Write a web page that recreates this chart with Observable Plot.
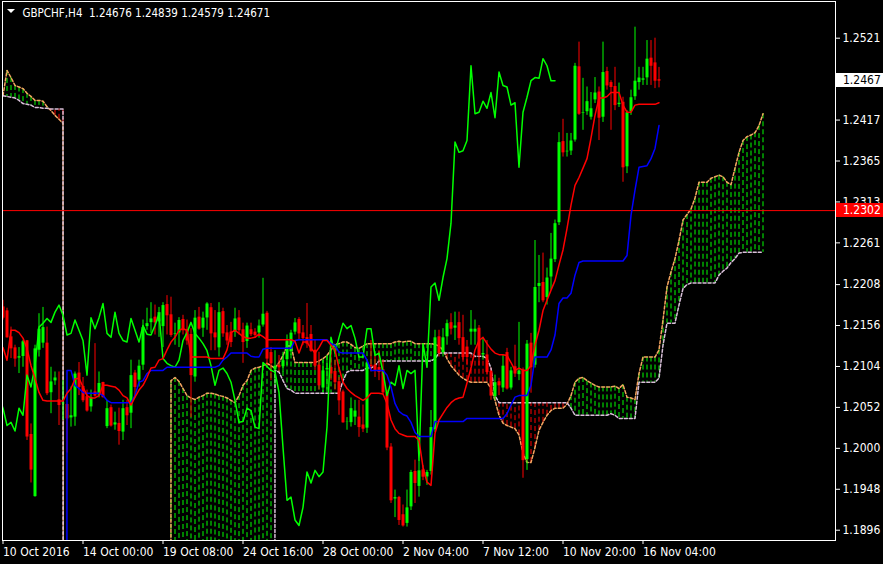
<!DOCTYPE html>
<html><head><meta charset="utf-8">
<script src="https://cdn.jsdelivr.net/npm/d3@7"></script>
<script src="https://cdn.jsdelivr.net/npm/@observablehq/plot@0.6"></script>
<style>
html,body{margin:0;padding:0;background:#000;}
#chart{width:883px;height:564px;overflow:hidden;}
svg text{white-space:pre;}
</style></head><body><div id="chart"></div>
<script>
const symbol = "GBPCHF,H4";
const lastQuote = [1.24676, 1.24839, 1.24579, 1.24671];
const alertLevel = 1.2302;
const chikouShift = 26;
const xTickBars = [0, 20, 40, 60, 80, 100, 120, 140, 160];
const xTickLabels = ["10 Oct 2016", "14 Oct 00:00", "19 Oct 08:00", "24 Oct 16:00", "28 Oct 00:00", "2 Nov 04:00", "7 Nov 12:00", "10 Nov 20:00", "16 Nov 04:00"];
const yTickValues = [1.2521, 1.2417, 1.2365, 1.2313, 1.2261, 1.2208, 1.2156, 1.2104, 1.2052, 1.2000, 1.1948, 1.1896];

const open = [1.2179,1.2174,1.2141,1.2127,1.2114,1.2116,1.2136,1.2017,1.1938,1.2124,
1.2133,1.2133,1.2070,1.2085,1.2061,1.2056,1.2055,1.2038,1.2039,1.2095,
1.2078,1.2065,1.2052,1.2071,1.2067,1.2083,1.2027,1.2051,1.2029,1.2031,
1.2020,1.2051,1.2044,1.2095,1.2086,1.2105,1.2154,1.2159,1.2166,1.2160,
1.2154,1.2182,1.2169,1.2144,1.2146,1.2163,1.2150,1.2144,1.2090,1.2166,
1.2152,1.2165,1.2178,1.2146,1.2127,1.2173,1.2146,1.2147,1.2147,1.2165,
1.2150,1.2135,1.2150,1.2147,1.2146,1.2156,1.2171,1.2121,1.2099,1.2105,
1.2103,1.2112,1.2122,1.2147,1.2163,1.2146,1.2140,1.2144,1.2124,1.2105,
1.2076,1.2099,1.2102,1.2097,1.2084,1.2071,1.2033,1.2032,1.2039,1.2039,
1.2029,1.2025,1.2105,1.2105,1.2102,1.2099,1.2070,1.2001,1.1935,1.1937,
1.1915,1.1904,1.1925,1.1970,1.1951,1.1972,1.1963,1.1970,1.2023,1.2141,
1.2121,1.2141,1.2159,1.2152,1.2159,1.2140,1.2128,1.2147,1.2147,1.2152,
1.2118,1.2118,1.2097,1.2065,1.2084,1.2076,1.2121,1.2076,1.2103,1.2093,
1.2099,1.1985,1.2133,1.2105,1.2205,1.2210,1.2191,1.2217,1.2239,1.2286,
1.2389,1.2376,1.2377,1.2391,1.2484,1.2425,1.2427,1.2420,1.2442,1.2452,
1.2420,1.2478,1.2464,1.2459,1.2436,1.2439,1.2357,1.2427,1.2446,1.2464,
1.2467,1.2470,1.2495,1.2489,1.24676];
const high = [1.2188,1.2178,1.2154,1.2131,1.2128,1.2137,1.2137,1.2031,1.2131,1.2171,
1.2179,1.2154,1.2103,1.2097,1.2097,1.2086,1.2056,1.2078,1.2097,1.2109,
1.2090,1.2074,1.2074,1.2133,1.2097,1.2084,1.2061,1.2055,1.2046,1.2051,
1.2061,1.2061,1.2112,1.2099,1.2112,1.2163,1.2178,1.2185,1.2182,1.2179,
1.2185,1.2194,1.2192,1.2159,1.2166,1.2169,1.2163,1.2152,1.2175,1.2179,
1.2173,1.2185,1.2184,1.2175,1.2185,1.2178,1.2156,1.2160,1.2178,1.2175,
1.2159,1.2159,1.2159,1.2152,1.2163,1.2216,1.2174,1.2128,1.2124,1.2118,
1.2122,1.2144,1.2150,1.2165,1.2166,1.2156,1.2184,1.2156,1.2137,1.2122,
1.2112,1.2118,1.2137,1.2112,1.2090,1.2074,1.2039,1.2064,1.2061,1.2061,
1.2055,1.2109,1.2137,1.2118,1.2124,1.2112,1.2074,1.2006,1.1947,1.1939,
1.1928,1.1947,1.1972,1.1985,1.1985,1.1978,1.1972,1.2048,1.2150,1.2150,
1.2152,1.2163,1.2171,1.2173,1.2173,1.2169,1.2137,1.2175,1.2163,1.2156,
1.2140,1.2137,1.2099,1.2093,1.2089,1.2118,1.2127,1.2103,1.2131,1.2160,
1.2102,1.2137,1.2146,1.2264,1.2245,1.2248,1.2229,1.2273,1.2290,1.2401,
1.2418,1.2400,1.2400,1.2489,1.2516,1.2470,1.2459,1.2452,1.2471,1.2459,
1.2516,1.2484,1.2467,1.2484,1.2464,1.2446,1.2429,1.2455,1.2535,1.2484,
1.2484,1.2518,1.2518,1.2521,1.24839];
const low = [1.2163,1.2140,1.2114,1.2103,1.2095,1.2103,1.2010,1.1956,1.1938,1.2116,
1.2127,1.2067,1.2044,1.2080,1.2029,1.2036,1.1994,1.2027,1.2028,1.2067,
1.2058,1.2046,1.2046,1.2065,1.2064,1.2064,1.2025,1.2027,1.2023,1.2004,
1.2010,1.2029,1.2025,1.2064,1.2078,1.2099,1.2150,1.2146,1.2144,1.2141,
1.2128,1.2144,1.2141,1.2131,1.2128,1.2144,1.2131,1.2039,1.2084,1.2150,
1.2141,1.2150,1.2124,1.2124,1.2116,1.2141,1.2131,1.2128,1.2141,1.2144,
1.2108,1.2127,1.2142,1.2140,1.2140,1.2154,1.2105,1.2086,1.2080,1.2097,
1.2097,1.2105,1.2118,1.2144,1.2137,1.2131,1.2127,1.2122,1.2099,1.2074,
1.2071,1.2074,1.2086,1.2074,1.2042,1.2032,1.2023,1.2027,1.2029,1.2014,
1.2020,1.2019,1.2097,1.2090,1.2086,1.2067,1.1997,1.1930,1.1912,1.1902,
1.1900,1.1900,1.1921,1.1930,1.1938,1.1959,1.1953,1.1966,1.2020,1.2116,
1.2116,1.2131,1.2144,1.2137,1.2131,1.2112,1.2105,1.2131,1.2131,1.2105,
1.2112,1.2093,1.2061,1.2061,1.2067,1.2071,1.2074,1.2074,1.2090,1.2086,
1.1962,1.1972,1.2070,1.2102,1.2185,1.2185,1.2182,1.2201,1.2236,1.2283,
1.2370,1.2370,1.2372,1.2389,1.2423,1.2404,1.2423,1.2417,1.2438,1.2391,
1.2414,1.2455,1.2404,1.2429,1.2433,1.2338,1.2349,1.2423,1.2442,1.2455,
1.2461,1.2461,1.2461,1.2457,1.24579];
const close = [1.2166,1.2141,1.2127,1.2114,1.2117,1.2136,1.2015,1.1973,1.2127,1.2152,
1.2154,1.2070,1.2085,1.2090,1.2055,1.2058,1.2038,1.2042,1.2095,1.2078,
1.2061,1.2048,1.2065,1.2067,1.2083,1.2065,1.2051,1.2029,1.2033,1.2022,
1.2051,1.2042,1.2093,1.2078,1.2105,1.2154,1.2159,1.2165,1.2160,1.2173,
1.2182,1.2169,1.2144,1.2146,1.2163,1.2150,1.2137,1.2093,1.2166,1.2152,
1.2166,1.2184,1.2146,1.2141,1.2173,1.2146,1.2137,1.2135,1.2165,1.2150,
1.2135,1.2156,1.2145,1.2144,1.2156,1.2171,1.2114,1.2108,1.2105,1.2103,
1.2112,1.2137,1.2147,1.2160,1.2146,1.2140,1.2133,1.2124,1.2105,1.2080,
1.2099,1.2102,1.2095,1.2084,1.2061,1.2033,1.2034,1.2051,1.2048,1.2027,
1.2025,1.2109,1.2104,1.2099,1.2097,1.2071,1.2001,1.1934,1.1938,1.1909,
1.1902,1.1925,1.1970,1.1956,1.1972,1.1964,1.1970,1.2027,1.2141,1.2121,
1.2141,1.2159,1.2152,1.2156,1.2140,1.2116,1.2116,1.2152,1.2152,1.2118,
1.2121,1.2097,1.2067,1.2084,1.2080,1.2105,1.2076,1.2099,1.2095,1.2099,
1.1985,1.2133,1.2103,1.2205,1.2210,1.2188,1.2217,1.2241,1.2286,1.2389,
1.2376,1.2378,1.2391,1.2486,1.2425,1.2427,1.2441,1.2432,1.2452,1.2420,
1.2478,1.2461,1.2459,1.2436,1.2439,1.2357,1.2427,1.2446,1.2467,1.2471,
1.2470,1.2495,1.2486,1.2467,1.24671];

const tenkan = [1.2128,1.2112,1.2150,1.2150,1.2147,1.2140,1.2127,1.2105,1.2089,1.2071,
1.2061,1.2060,1.2060,1.2060,1.2060,1.2060,1.2070,1.2076,1.2088,1.2089,
1.2078,1.2067,1.2064,1.2064,1.2067,1.2080,1.2080,1.2079,1.2078,1.2074,
1.2067,1.2064,1.2055,1.2065,1.2074,1.2080,1.2090,1.2102,1.2103,1.2112,
1.2114,1.2125,1.2135,1.2141,1.2150,1.2152,1.2150,1.2116,1.2116,1.2116,
1.2116,1.2116,1.2114,1.2114,1.2114,1.2114,1.2125,1.2147,1.2150,1.2146,
1.2142,1.2140,1.2140,1.2141,1.2145,1.2142,1.2138,1.2138,1.2138,1.2138,
1.2138,1.2138,1.2138,1.2136,1.2121,1.2135,1.2135,1.2127,1.2121,1.2128,
1.2137,1.2137,1.2131,1.2125,1.2102,1.2084,1.2076,1.2071,1.2067,1.2064,
1.2061,1.2064,1.2070,1.2070,1.2070,1.2069,1.2057,1.2036,1.2025,1.2019,
1.2017,1.2015,1.2015,1.2015,1.2010,1.1976,1.1957,1.1953,1.2019,1.2036,
1.2044,1.2052,1.2058,1.2062,1.2064,1.2065,1.2083,1.2102,1.2125,1.2137,
1.2141,1.2133,1.2126,1.2121,1.2119,1.2119,1.2118,1.2109,1.2099,1.2102,
1.2099,1.2099,1.2105,1.2131,1.2150,1.2175,1.2188,1.2201,1.2213,1.2233,
1.2252,1.2279,1.2309,1.2334,1.2344,1.2356,1.2368,1.2394,1.2423,1.2445,
1.2445,1.2447,1.2452,1.2452,1.2452,1.2436,1.2427,1.2427,1.2436,1.2437,
1.2437,1.2437,1.2437,1.2437,1.2439];
const kijun = [0,0,0,0,0,0,0,0,0,0,
0,0,0,0,0,0,1.2099,1.2099,1.2080,1.2076,
1.2071,1.2070,1.2070,1.2070,1.2070,1.2067,1.2061,1.2058,1.2058,1.2058,
1.2058,1.2058,1.2058,1.2067,1.2084,1.2086,1.2095,1.2099,1.2099,1.2099,
1.2099,1.2103,1.2103,1.2103,1.2103,1.2103,1.2103,1.2103,1.2103,1.2103,
1.2103,1.2103,1.2103,1.2103,1.2105,1.2112,1.2116,1.2121,1.2121,1.2121,
1.2121,1.2121,1.2117,1.2116,1.2116,1.2126,1.2127,1.2127,1.2127,1.2127,
1.2127,1.2127,1.2127,1.2137,1.2138,1.2138,1.2138,1.2138,1.2138,1.2138,
1.2138,1.2138,1.2133,1.2131,1.2122,1.2121,1.2121,1.2121,1.2121,1.2121,
1.2121,1.2112,1.2099,1.2099,1.2099,1.2099,1.2093,1.2078,1.2057,1.2047,
1.2043,1.2041,1.2033,1.2020,1.2015,1.2015,1.2015,1.2015,1.2034,1.2034,
1.2034,1.2034,1.2034,1.2034,1.2034,1.2034,1.2038,1.2038,1.2038,1.2038,
1.2038,1.2038,1.2038,1.2038,1.2038,1.2038,1.2044,1.2055,1.2065,1.2067,
1.2067,1.2067,1.2080,1.2116,1.2116,1.2116,1.2116,1.2125,1.2144,1.2184,
1.2191,1.2191,1.2197,1.2220,1.2236,1.2238,1.2238,1.2238,1.2238,1.2238,
1.2238,1.2238,1.2238,1.2238,1.2238,1.2238,1.2245,1.2296,1.2328,1.2357,
1.2358,1.2359,1.2368,1.2381,1.2410];
const spanA = [1.2448,1.2480,1.2471,1.2461,1.2459,1.2457,1.2451,1.2447,1.2442,1.2442,
1.2441,1.2434,1.2429,1.2423,1.2418,1.2413,0,0,0,0,
0,0,0,0,0,0,0,0,0,0,
0,0,0,0,0,0,0,0,0,0,
0,0,1.2086,1.2090,1.2085,1.2076,1.2067,1.2064,1.2062,1.2065,
1.2067,1.2070,1.2070,1.2069,1.2067,1.2066,1.2064,1.2061,1.2058,1.2067,
1.2080,1.2086,1.2099,1.2102,1.2103,1.2105,1.2108,1.2105,1.2102,1.2109,
1.2118,1.2130,1.2130,1.2109,1.2109,1.2109,1.2109,1.2109,1.2109,1.2111,
1.2114,1.2118,1.2125,1.2132,1.2133,1.2135,1.2135,1.2132,1.2128,1.2127,
1.2130,1.2133,1.2133,1.2133,1.2133,1.2133,1.2133,1.2133,1.2135,1.2136,
1.2135,1.2136,1.2136,1.2133,1.2133,1.2133,1.2133,1.2133,1.2132,1.2130,
1.2125,1.2114,1.2105,1.2099,1.2093,1.2089,1.2086,1.2084,1.2084,1.2084,
1.2084,1.2084,1.2076,1.2061,1.2042,1.2032,1.2029,1.2027,1.2025,1.2017,
1.1994,1.1982,1.1982,1.2001,1.2023,1.2033,1.2042,1.2048,1.2051,1.2051,
1.2051,1.2056,1.2067,1.2084,1.2089,1.2090,1.2086,1.2083,1.2080,1.2078,
1.2078,1.2078,1.2078,1.2079,1.2076,1.2081,1.2065,1.2064,1.2062,1.2095,
1.2116,1.2116,1.2116,1.2116,1.2125,1.2163,1.2205,1.2224,1.2241,1.2264,
1.2290,1.2297,1.2304,1.2318,1.2338,1.2338,1.2338,1.2343,1.2345,1.2347,
1.2345,1.2338,1.2335,1.2356,1.2376,1.2391,1.2396,1.2398,1.2401,1.2410,
1.2425];
const spanB = [1.2448,1.2447,1.2446,1.2445,1.2442,1.2438,1.2437,1.2436,1.2433,1.2433,
1.2432,1.2432,1.2431,1.2431,1.2431,1.2431,0,0,0,0,
0,0,0,0,0,0,0,0,0,0,
0,0,0,0,0,0,0,0,0,0,
0,0,0,0,0,0,0,0,0,0,
0,0,0,0,0,0,0,0,0,0,
0,0,0,0,0,0,0,0,1.2099,1.2097,
1.2086,1.2076,1.2074,1.2070,1.2070,1.2070,1.2070,1.2070,1.2070,1.2070,
1.2070,1.2070,1.2070,1.2070,1.2070,1.2086,1.2097,1.2099,1.2099,1.2099,
1.2099,1.2102,1.2102,1.2105,1.2111,1.2111,1.2111,1.2111,1.2111,1.2111,
1.2111,1.2111,1.2111,1.2111,1.2111,1.2111,1.2111,1.2111,1.2114,1.2121,
1.2121,1.2121,1.2121,1.2121,1.2121,1.2121,1.2121,1.2121,1.2117,1.2117,
1.2117,1.2114,1.2102,1.2067,1.2058,1.2058,1.2058,1.2058,1.2058,1.2058,
1.2058,1.2058,1.2058,1.2058,1.2058,1.2058,1.2058,1.2058,1.2058,1.2058,
1.2058,1.2058,1.2051,1.2042,1.2042,1.2042,1.2042,1.2042,1.2042,1.2042,
1.2042,1.2042,1.2044,1.2042,1.2038,1.2038,1.2038,1.2038,1.2038,1.2084,
1.2084,1.2084,1.2084,1.2084,1.2089,1.2131,1.2159,1.2159,1.2159,1.2182,
1.2203,1.2208,1.2210,1.2210,1.2210,1.2210,1.2210,1.2210,1.2210,1.2220,
1.2225,1.2229,1.2236,1.2241,1.2248,1.2249,1.2249,1.2249,1.2249,1.2249,
1.2249];

const LIME = "#00ff00", RED = "#ff0000", BLUE = "#0000ff", SANDY = "#f4a460", THISTLE = "#d8bfd8";

const bars = open.map((o, i) => ({i, o, h: high[i], l: low[i], c: close[i], col: close[i] >= o ? LIME : RED}));
const cloud = spanA.map((a, i) => ({i, a, b: spanB[i], col: a >= spanB[i] ? LIME : RED}));
const tk = tenkan.map((v, i) => ({i, v}));
const kj = kijun.map((v, i) => ({i, v}));
const ch = close.map((v, i) => ({i: i - chikouShift, v}));
const header = `${symbol}  ${lastQuote.map(d3.format(".5f")).join(" ")}`;

const chart = Plot.plot({
  width: 883, height: 564,
  marginLeft: 2, marginRight: 48, marginTop: 1, marginBottom: 24,
  style: {background: "#000", color: "#fff", fontFamily: "'DejaVu Sans Condensed','DejaVu Sans',sans-serif", fontSize: "12px"},
  x: {domain: [-0.125, 208.125], label: null},
  y: {domain: [1.188292, 1.256762], label: null},
  marks: [
    Plot.ruleX(cloud, {x: "i", y1: "a", y2: "b", stroke: "col", strokeDasharray: "5,3", clip: true}),
    Plot.line(cloud, {x: "i", y: "a", stroke: SANDY, strokeDasharray: "3,2", clip: true}),
    Plot.line(cloud, {x: "i", y: "b", stroke: THISTLE, strokeDasharray: "3,2", clip: true}),
    Plot.ruleY([alertLevel], {stroke: RED}),
    Plot.ruleX(bars, {x: "i", y1: "l", y2: "h", stroke: "col", clip: true}),
    Plot.ruleX(bars, {x: "i", y1: "o", y2: "c", stroke: "col", strokeWidth: 3, insetTop: -0.5, insetBottom: -0.5, clip: true}),
    Plot.line(ch, {x: "i", y: "v", stroke: LIME, clip: true}),
    Plot.line(kj, {x: "i", y: "v", stroke: BLUE, clip: true}),
    Plot.line(tk, {x: "i", y: "v", stroke: RED, clip: true}),
    Plot.frame({stroke: "#fff"}),
    Plot.axisX(xTickBars, {anchor: "bottom", label: null, tickSize: 4, tickPadding: 3, textAnchor: "start", stroke: "#fff", fill: "#fff",
      tickFormat: d => xTickLabels[xTickBars.indexOf(d)]}),
    Plot.axisY(yTickValues, {anchor: "right", label: null, tickSize: 4, tickPadding: 3, stroke: "#fff", fill: "#fff", tickFormat: d3.format(".4f")}),
    Plot.text([header], {frameAnchor: "top-left", dx: 20, dy: 12, fill: "#fff", textAnchor: "start", lineAnchor: "middle", fontSize: 11.5})
  ]
});
document.getElementById("chart").append(chart);

const svg = d3.select(chart);
const ys = chart.scale("y");
const xr = chart.scale("x").range;
svg.append("path").attr("d", "M7,9L15,9L11,13Z").attr("fill", "#fff");
function priceTag(price, bg, fg) {
  const y = ys.apply(price);
  svg.append("rect").attr("x", xr[1] + 1).attr("y", Math.round(y) - 7).attr("width", 47).attr("height", 14).attr("fill", bg);
  svg.append("text").attr("x", xr[1] + 8).attr("y", y).attr("dy", "0.36em").attr("text-anchor", "start")
    .attr("fill", fg).attr("font-size", 12).text(d3.format(".4f")(price));
}
priceTag(lastQuote[3], "#fff", "#000");
priceTag(alertLevel, RED, "#fff");
</script></body></html>
